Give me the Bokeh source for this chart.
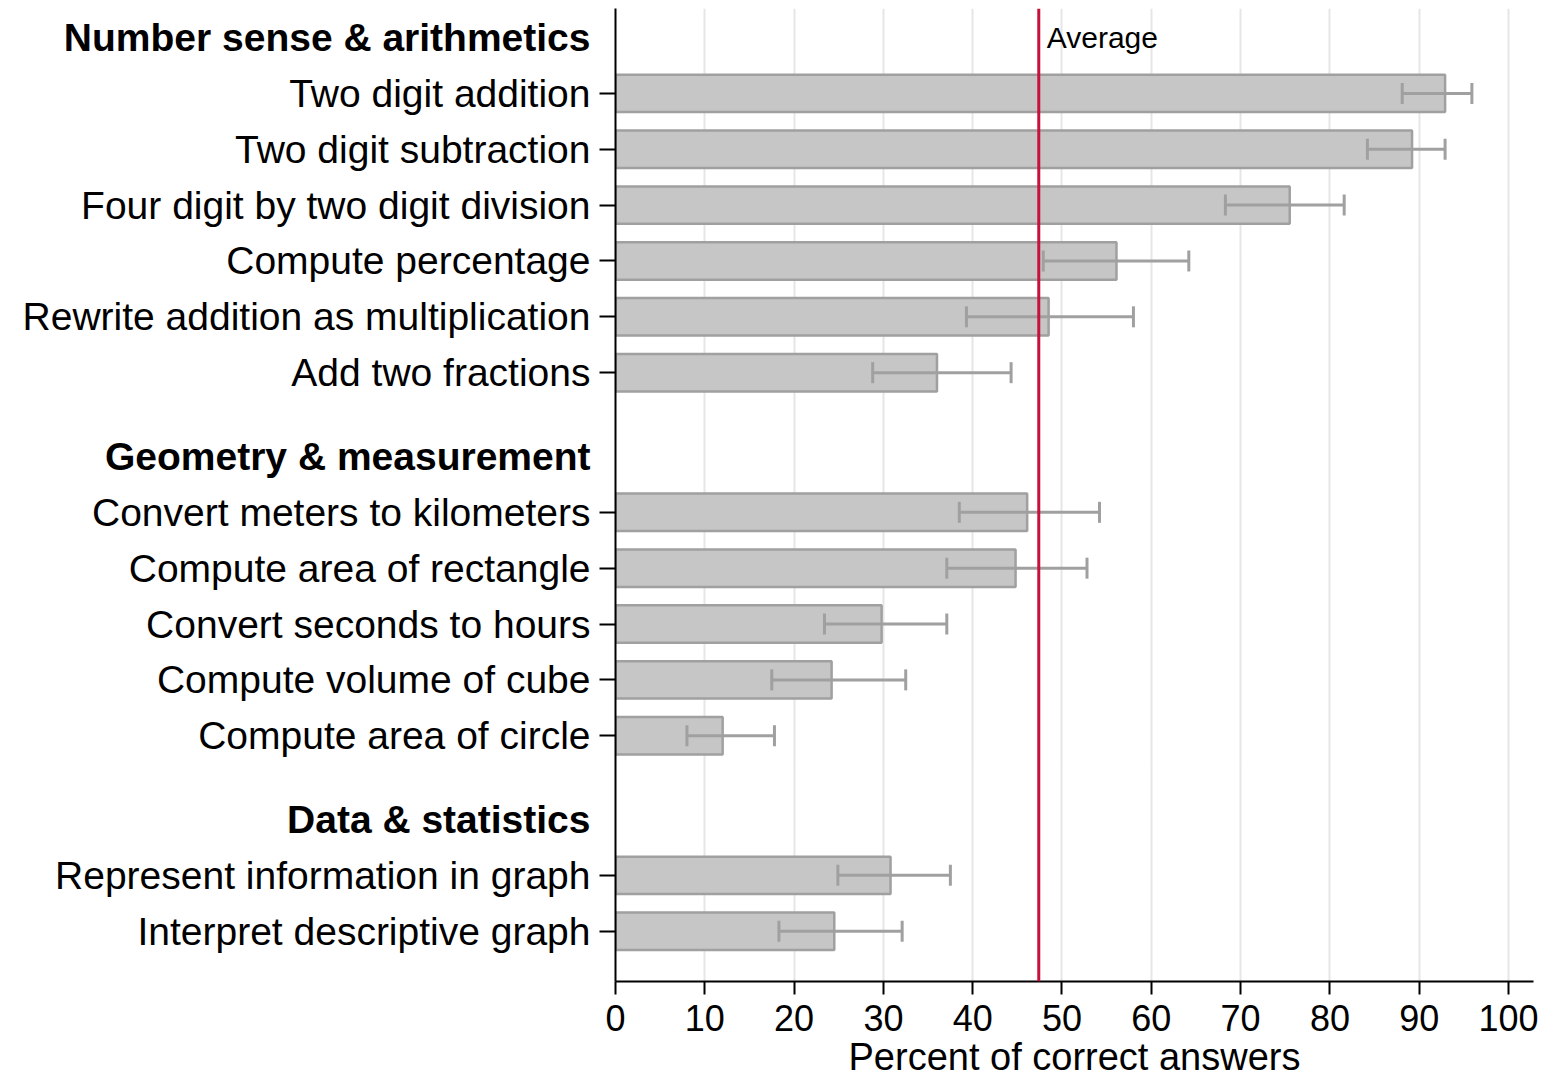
from bokeh.plotting import figure
from bokeh.layouts import row
from bokeh.models import (Range1d, FixedTicker, Span, Label, Whisker,
                          ColumnDataSource, TeeHead)
from bokeh.core.properties import value
from bokeh.embed import file_html
from bokeh.resources import INLINE

# ---- data -------------------------------------------------------------
groups = ["Number sense & arithmetics", "Geometry & measurement", "Data & statistics"]
group_sizes = [6, 5, 2]
tasks = [
    "Two digit addition",
    "Two digit subtraction",
    "Four digit by two digit division",
    "Compute percentage",
    "Rewrite addition as multiplication",
    "Add two fractions",
    "Convert meters to kilometers",
    "Compute area of rectangle",
    "Convert seconds to hours",
    "Compute volume of cube",
    "Compute area of circle",
    "Represent information in graph",
    "Interpret descriptive graph",
]
pct_correct = [92.9, 89.2, 75.5, 56.1, 48.5, 36.0, 46.1, 44.8, 29.8, 24.2, 12.0, 30.8, 24.5]
ci_low = [88.1, 84.2, 68.3, 47.9, 39.3, 28.8, 38.5, 37.1, 23.4, 17.5, 8.0, 24.9, 18.3]
ci_high = [95.9, 92.9, 81.6, 64.2, 58.0, 44.3, 54.2, 52.8, 37.1, 32.5, 17.8, 37.5, 32.1]
average = 47.4
x_ticks = [0, 10, 20, 30, 40, 50, 60, 70, 80, 90, 100]

# ---- row layout (half-row units, top to bottom) -------------------------
header_y, row_y = [], []
pos = 0
for gi, n in enumerate(group_sizes):
    if gi > 0:
        pos += 3          # extra gap before each new group heading
    header_y.append(pos)
    for _ in range(n):
        pos += 2
        row_y.append(pos)

FONT = "Liberation Sans"
FS = "36px"
LABEL_FS = "39px"
TITLE_FS = "38px"
BAR_FILL = "#c6c6c6"
BAR_LINE = "#a0a0a0"
RED = "#c8103c"

TOTAL_W, TOTAL_H = 1552, 1080
LABEL_W = 595          # width of the label column
TOP, BOTTOM = 8, 99    # space above / below the plotting area

y_range = Range1d(33.8, -1.04)

# ---- main chart -----------------------------------------------------------
p = figure(width=TOTAL_W - LABEL_W, height=TOTAL_H, output_backend="svg",
           toolbar_location=None, x_range=Range1d(0, 102.8), y_range=y_range)
p.min_border_left = 20
p.min_border_right = 19
p.min_border_top = TOP
p.min_border_bottom = BOTTOM
p.outline_line_color = None

p.ygrid.visible = False
p.xgrid.ticker = FixedTicker(ticks=x_ticks)
p.xgrid.grid_line_color = "#e6e6e6"
p.xgrid.grid_line_width = 2

src = ColumnDataSource(dict(y=row_y, pct=pct_correct, lo=ci_low, hi=ci_high, task=tasks))

p.hbar(y="y", left=0, right="pct", height=1.34, source=src,
       fill_color=BAR_FILL, line_color=BAR_LINE, line_width=2.5)

whisk = Whisker(base="y", lower="lo", upper="hi", dimension="width", source=src,
                line_color=BAR_LINE, line_width=3, level="annotation",
                lower_head=TeeHead(size=21, line_color=BAR_LINE, line_width=3),
                upper_head=TeeHead(size=21, line_color=BAR_LINE, line_width=3))
p.add_layout(whisk)

p.add_layout(Span(location=average, dimension="height", line_color=RED, line_width=3))
p.add_layout(Label(x=average, y=header_y[0], x_offset=8, text="Average",
                   text_font=FONT, text_font_size="30px", text_color="black",
                   text_baseline="middle", text_align="left"))

xa = p.xaxis[0]
xa.ticker = FixedTicker(ticks=x_ticks)
xa.axis_label = "Percent of correct answers"
xa.axis_label_text_font = FONT
xa.axis_label_text_font_size = TITLE_FS
xa.axis_label_text_font_style = "normal"
xa.axis_label_text_color = "black"
xa.axis_label_standoff = 2
xa.major_label_text_font = FONT
xa.major_label_text_font_size = FS
xa.major_label_text_color = "black"
xa.major_label_standoff = 10
xa.major_tick_in = 0
xa.major_tick_out = 13
xa.minor_tick_line_color = None
xa.axis_line_width = 2
xa.major_tick_line_width = 2
xa.axis_line_color = "black"
xa.major_tick_line_color = "black"

# y axis keeps its line and tick marks; the names are set in the label column
ya = p.yaxis[0]
ya.ticker = FixedTicker(ticks=row_y)
ya.major_label_overrides = {y: "" for y in row_y}
ya.major_label_text_color = None
ya.major_label_text_font_size = "1px"
ya.major_label_standoff = 0
ya.major_tick_in = 0
ya.major_tick_out = 16
ya.minor_tick_line_color = None
ya.axis_line_width = 2
ya.major_tick_line_width = 2
ya.axis_line_color = "black"
ya.major_tick_line_color = "black"

# ---- label column: task names and bold group headings -----------------------
lp = figure(width=LABEL_W, height=TOTAL_H, output_backend="svg", toolbar_location=None,
            x_range=Range1d(0, LABEL_W), y_range=y_range,
            x_axis_type=None, y_axis_type=None)
lp.min_border_left = 0
lp.min_border_right = 0
lp.min_border_top = TOP
lp.min_border_bottom = BOTTOM
lp.outline_line_color = None
lp.grid.visible = False

label_right = LABEL_W - 5
lp.text(x=[label_right] * len(tasks), y=row_y, text=tasks,
        text_font=value(FONT), text_font_size=value(LABEL_FS), text_color="black",
        text_align="right", text_baseline="middle")
lp.text(x=[label_right] * len(groups), y=header_y, text=groups,
        text_font=value(FONT), text_font_size=value(LABEL_FS), text_font_style="bold",
        text_color="black", text_align="right", text_baseline="middle")

layout = row(lp, p, spacing=0)
open("out.html", "w").write(file_html(layout, INLINE))
